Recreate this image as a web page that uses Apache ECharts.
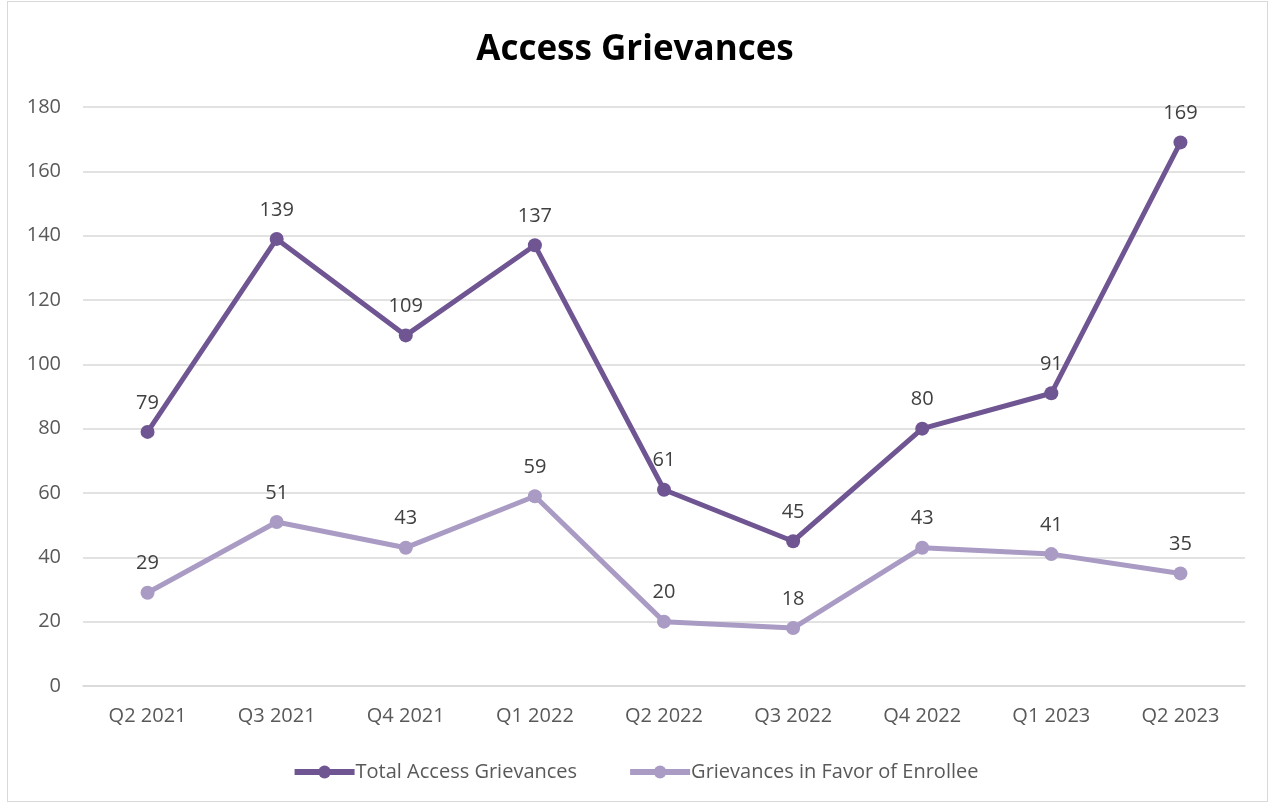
<!DOCTYPE html>
<html><head><meta charset="utf-8">
<script src="https://cdn.jsdelivr.net/npm/echarts@6/dist/echarts.min.js"></script>
<style>
html,body{margin:0;padding:0;background:#fff;}
#frame{position:absolute;left:7px;top:1px;width:1261px;height:801px;border:1.5px solid #d9d9d9;box-sizing:border-box;}
#c{position:absolute;left:0;top:0;width:1270px;height:805px;}
</style></head>
<body>
<div id="frame"></div>
<div id="c"></div>
<script>
const categories = ['Q2 2021','Q3 2021','Q4 2021','Q1 2022','Q2 2022','Q3 2022','Q4 2022','Q1 2023','Q2 2023'];
const totalAccess = [79,139,109,137,61,45,80,91,169];
const inFavor = [29,51,43,59,20,18,43,41,35];
const yTicks = {min:0,max:180,interval:20};

const font = 'Open Sans, Noto Sans, sans-serif';
const chart = echarts.init(document.getElementById('c'));
function series(name, data, color){
  return {
    name, type:'line', data,
    symbol:'circle', symbolSize:14,
    lineStyle:{color, width:5},
    itemStyle:{color},
    label:{show:true, position:'top', distance:12, color:'#404040', fontSize:20, fontFamily:font},
    emphasis:{disabled:true}
  };
}
chart.setOption({
  animation:false,
  title:{text:'Access Grievances', left:'center', top:28,
    textStyle:{fontSize:35, fontWeight:'bold', color:'#000', fontFamily:font}},
  grid:{left:83, right:25, top:107, bottom:119, containLabel:false},
  legend:{bottom:18, left:'center', itemWidth:60, itemHeight:16, itemGap:50,
    lineStyle:{width:6},
    textStyle:{fontSize:20, color:'#595959', fontFamily:font, padding:[0,0,0,-4]},
    data:['Total Access Grievances','Grievances in Favor of Enrollee']},
  xAxis:{type:'category', data:categories, boundaryGap:true,
    axisLine:{lineStyle:{color:'#d9d9d9', width:1.5}}, axisTick:{show:false},
    axisLabel:{color:'#595959', fontSize:20, margin:20, fontFamily:font}},
  yAxis:{type:'value', min:yTicks.min, max:yTicks.max, interval:yTicks.interval,
    axisLine:{show:false}, axisTick:{show:false},
    splitLine:{lineStyle:{color:'#d9d9d9', width:1.5}},
    axisLabel:{color:'#595959', fontSize:20, margin:22, fontFamily:font}},
  series:[series('Total Access Grievances', totalAccess, '#6f5592'),
          series('Grievances in Favor of Enrollee', inFavor, '#a99bc4')]
});
</script>
</body></html>
